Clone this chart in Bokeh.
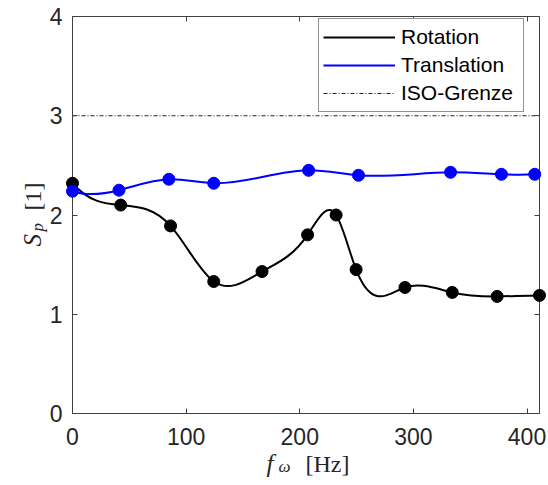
import numpy as np
from math import pi
from bokeh.plotting import figure
from bokeh.models import (Range1d, LinearAxis, FixedTicker, Legend, LegendItem,
                          CustomJSTickFormatter)
from bokeh.core.properties import value
from bokeh.embed import file_html
from bokeh.resources import INLINE

# ---- data ----
rot_f = [0, 42.4, 86.3, 124.3, 166.8, 206.9, 232.0, 249.6, 292.6, 334.2, 373.7, 411.0]
rot_s = [2.32, 2.10, 1.89, 1.33, 1.43, 1.80, 2.00, 1.45, 1.27, 1.22, 1.18, 1.19]
tra_f = [0, 40.9, 84.8, 124.3, 207.8, 251.7, 332.7, 377.5, 406.8]
tra_s = [2.24, 2.25, 2.36, 2.32, 2.45, 2.40, 2.43, 2.41, 2.41]
iso_limit = 3.0
x_limits = [0, 411]
y_limits = [0, 4]
x_ticks = [0, 100, 200, 300, 400]
y_ticks = [0, 1, 2, 3, 4]
series_names = ["Rotation", "Translation", "ISO-Grenze"]

W, H = 548, 485
BL, BR, BT, BB = 72, 9, 16, 72


def spline_bezier(x, y):
    """Not-a-knot cubic spline through the points, expressed as Bezier segments."""
    x = np.asarray(x, float)
    y = np.asarray(y, float)
    n = len(x)
    h = np.diff(x)
    d = np.diff(y) / h
    A = np.zeros((n, n))
    b = np.zeros(n)
    A[0, 0], A[0, 1], A[0, 2] = h[1], -(h[0] + h[1]), h[0]
    A[-1, -3], A[-1, -2], A[-1, -1] = h[-1], -(h[-2] + h[-1]), h[-2]
    for i in range(1, n - 1):
        A[i, i - 1] = h[i - 1]
        A[i, i] = 2 * (h[i - 1] + h[i])
        A[i, i + 1] = h[i]
        b[i] = 6 * (d[i] - d[i - 1])
    M = np.linalg.solve(A, b)
    m = np.empty(n)
    m[:-1] = d - h * (2 * M[:-1] + M[1:]) / 6
    m[-1] = d[-1] + h[-1] * (M[-2] + 2 * M[-1]) / 6
    return dict(x0=x[:-1], y0=y[:-1], x1=x[1:], y1=y[1:],
                cx0=x[:-1] + h / 3, cy0=y[:-1] + m[:-1] * h / 3,
                cx1=x[1:] - h / 3, cy1=y[1:] - m[1:] * h / 3)


def px(cx, cy):
    """canvas pixel -> data coordinates (for placing the axis titles)"""
    fw = W - BL - BR
    fh = H - BT - BB
    dx = x_limits[0] + (cx - BL) / fw * (x_limits[1] - x_limits[0])
    dy = y_limits[0] + ((H - BB) - cy) / fh * (y_limits[1] - y_limits[0])
    return dx, dy


p = figure(width=W, height=H, output_backend="svg", toolbar_location=None,
           x_range=Range1d(*x_limits), y_range=Range1d(*y_limits),
           min_border_left=BL, min_border_right=BR, min_border_top=BT, min_border_bottom=BB,
           background_fill_color="white", border_fill_color="white")
p.outline_line_color = None
p.xgrid.visible = False
p.ygrid.visible = False

axis_col = "#404040"
lab_col = "#262626"
tick_font = "Liberation Sans"

p.xaxis.ticker = FixedTicker(ticks=x_ticks)
p.yaxis.ticker = FixedTicker(ticks=y_ticks)
for ax in (p.xaxis[0], p.yaxis[0]):
    ax.axis_line_color = axis_col
    ax.major_tick_line_color = axis_col
    ax.major_tick_in = 5
    ax.major_tick_out = 0
    ax.minor_tick_in = 0
    ax.minor_tick_out = 0
    ax.major_label_text_font = tick_font
    ax.major_label_text_font_size = "23px"
    ax.major_label_text_color = lab_col
p.xaxis.major_label_standoff = 14
p.yaxis.major_label_standoff = 10

empty = CustomJSTickFormatter(code="return ''")
top_ax = LinearAxis(ticker=FixedTicker(ticks=x_ticks), formatter=empty)
right_ax = LinearAxis(ticker=FixedTicker(ticks=y_ticks), formatter=empty)
for ax in (top_ax, right_ax):
    ax.axis_line_color = axis_col
    ax.major_tick_line_color = axis_col
    ax.major_tick_in = 5
    ax.major_tick_out = 0
    ax.minor_tick_in = 0
    ax.minor_tick_out = 0
    ax.major_label_standoff = 0
    ax.major_label_text_font_size = "1px"
p.add_layout(top_ax, "above")
p.add_layout(right_ax, "right")

# ISO limit line
iso_r = p.line(x=x_limits, y=[iso_limit, iso_limit], line_color="#222222",
               line_width=1, line_dash="4 2 1 2")

# curves
rot_curve = p.bezier(line_color="black", line_width=2, **spline_bezier(rot_f, rot_s))
rot_pts = p.scatter(rot_f, rot_s, size=12, marker="circle", fill_color="black", line_color="black")
rot_pts.level = "overlay"
tra_curve = p.bezier(line_color="#0000FF", line_width=2, **spline_bezier(tra_f, tra_s))
tra_pts = p.scatter(tra_f, tra_s, size=12, marker="circle", fill_color="#0000FF", line_color="#0000FF")
tra_pts.level = "overlay"

legend = Legend(items=[LegendItem(label=series_names[0], renderers=[rot_curve]),
                       LegendItem(label=series_names[1], renderers=[tra_curve]),
                       LegendItem(label=series_names[2], renderers=[iso_r])],
                location=(246, 301), orientation="vertical")
legend.padding = 4
legend.margin = 0
legend.spacing = 0
legend.glyph_width = 72
legend.glyph_height = 28
legend.label_height = 28
legend.label_width = 118
legend.label_standoff = 6
legend.label_text_font = tick_font
legend.label_text_font_size = "21px"
legend.label_text_color = "black"
legend.border_line_color = lab_col
legend.border_line_width = 1
legend.background_fill_color = "white"
legend.background_fill_alpha = 1
p.add_layout(legend)

serif = "Liberation Serif"


def add_title_piece(cx, cy, text, size, italic=False, angle=0.0):
    x, y = px(cx, cy)
    r = p.text(x=[x], y=[y], text=[text], text_font=value(serif),
               text_font_style="italic" if italic else "normal",
               text_font_size=value(size), text_color=lab_col, angle=angle,
               text_align="left", text_baseline="alphabetic")
    r.level = "overlay"


# y-axis title  S_p [1]  (rotated, reads bottom to top)
add_title_piece(32, 246, "S", "25px", italic=True, angle=pi / 2)
add_title_piece(37, 231, "p", "17px", italic=True, angle=pi / 2)
add_title_piece(32, 210, "[1]", "24px", angle=pi / 2)
# x-axis title  f_ω [Hz]
add_title_piece(266, 463, "f", "25px", italic=True)
add_title_piece(278, 466, "ω", "17px", italic=True)
add_title_piece(305, 463, "[Hz]", "24px")

open("out.html", "w").write(file_html(p, INLINE))
